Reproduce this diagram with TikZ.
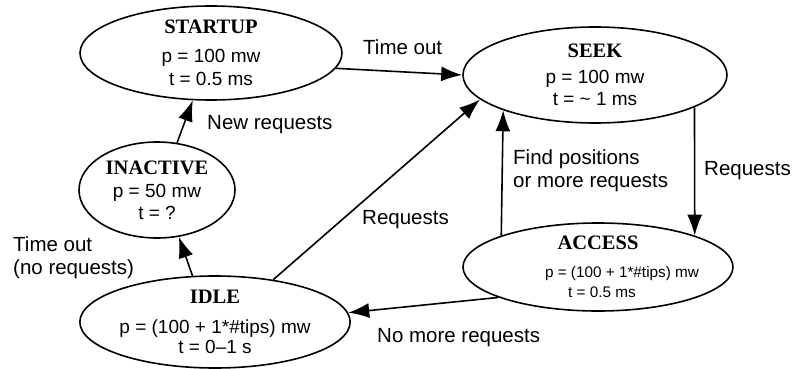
\documentclass[tikz,border=0pt]{standalone}
\usepackage{fontspec}
\setmainfont{Liberation Sans}
\newfontfamily\headfont{Liberation Serif}
\usetikzlibrary{arrows.meta}
\usetikzlibrary{shapes.geometric}

\newcommand{\statename}[1]{{\headfont\bfseries\fontsize{20.5}{23}\selectfont #1}}

\tikzset{
  state/.style={draw, ellipse, line width=1.6pt, inner sep=0pt, align=center,
    font=\fontsize{19}{23}\selectfont},
  trans/.style={-{Latex[length=21pt, width=15pt]}, line width=1.6pt},
  lbl/.style={anchor=base west, inner sep=0pt, align=left,
    font=\fontsize{20.5}{23}\selectfont}
}

\begin{document}
\begin{tikzpicture}[x=1pt, y=-1pt]
    \useasboundingbox (0, 0) rectangle (793, 369);

    % states
    \node [state, minimum width=262pt, minimum height=94pt] (startup) at (211, 53)
      {\statename{STARTUP}\\[6pt] p = 100 mw\\ t = 0.5 ms};
    \node [state, minimum width=264pt, minimum height=96pt] (seek) at (595, 75)
      {\statename{SEEK}\\[3pt] p = 100 mw\\[-1pt] t = \textasciitilde\ 1 ms};
    \node [state, minimum width=156pt, minimum height=96pt] (inactive) at (157, 190)
      {\statename{INACTIVE}\\[0pt] p = 50 mw\\[-1pt] t = ?};
    \node [state, minimum width=270pt, minimum height=88pt, font=\fontsize{15.3}{20}\selectfont] (access) at (598, 267)
      {\statename{ACCESS}\\[8pt] \makebox[0pt]{\hspace{48pt}p = (100 + 1*\#tips) mw}\\ \hspace{8pt}t = 0.5 ms};
    \node [state, minimum width=270pt, minimum height=92pt] (idle) at (215, 322)
      {\statename{IDLE}\\[7pt] p = (100 + 1*\#tips) mw\\[-3pt] t = 0--1 s};

    % transitions
    \draw [trans] (startup.-7) -- (seek.180);
    \draw [trans] (inactive.67) -- (startup.-111);
    \draw [trans] (idle.116) -- (inactive.-65);
    \draw [trans] (idle.36) -- (seek.192);
    \draw [trans] (access.162) -- (seek.-159.5);
    \draw [trans] (seek.-18) -- (access.18);
    \draw [trans] (access.-163) -- (idle.4);

    % labels
    \node [lbl] (ltimeout) at (363, 55) {Time out};
    \node [lbl] (lnew) at (207, 129) {New requests};
    \node [lbl] (lfind) at (513, 187) {Find positions\\ or more requests};
    \node [lbl] (lreqseek) at (704, 175) {Requests};
    \node [lbl] (lreqidle) at (362, 224) {Requests};
    \node [lbl] (lnoreq) at (13, 274) {Time out\\ (no requests)};
    \node [lbl] (lnomore) at (377, 342) {No more requests};
\end{tikzpicture}
\end{document}
